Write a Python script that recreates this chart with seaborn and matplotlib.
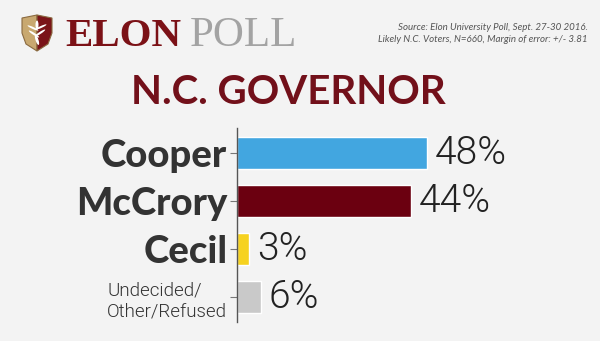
import matplotlib
matplotlib.use("Agg")
import matplotlib.pyplot as plt
import seaborn as sns
import pandas as pd
from matplotlib.patches import Polygon, Ellipse

categories = ["Cooper", "McCrory", "Cecil", "Undecided/\nOther/Refused"]
values = [48, 44, 3, 6]
value_labels = ["48%", "44%", "3%", "6%"]
colors = ["#42a6e0", "#6b0010", "#f6d21f", "#c9c9c9"]

sns.set_theme(style="white")
plt.rcParams['font.family'] = ['Lato', 'DejaVu Sans']

BG = "#f3f3f3"
fig = plt.figure(figsize=(6.0, 3.41), dpi=100)
fig.patch.set_facecolor(BG)

ax = fig.add_axes([237/600, 1-322/341, (600-237)/600, (322-128)/341])
ax.set_facecolor(BG)

df = pd.DataFrame({"cat": categories, "val": values})
sns.barplot(data=df, x="val", y="cat", hue="cat", palette=colors, orient="h",
            width=0.65, legend=False, ax=ax, saturation=1)

ax.set_xlim(0, (600-237)/3.96)
ax.set_ylim(3.52, -0.52)
ax.set_xlabel("")
ax.set_ylabel("")
ax.set_xticks([])
for s in ["top", "right", "bottom"]:
    ax.spines[s].set_visible(False)
ax.spines["left"].set_color("#555555")
ax.spines["left"].set_linewidth(1.0)
ax.tick_params(axis="y", length=5, width=0.8, color="#777777", left=True, pad=2)

ax.set_yticks(range(len(categories)))
ax.set_yticklabels(categories)
for i, lab in enumerate(ax.get_yticklabels()):
    if i < 3:
        lab.set_fontsize(27.5)
        lab.set_fontweight("black")
        lab.set_color("#333333")
    else:
        lab.set_fontsize(13.5)
        lab.set_fontweight(300)
        lab.set_family(["Roboto", "DejaVu Sans"])
        lab.set_color("#333333")
        lab.set_linespacing(1.25)
        lab.set_multialignment("left")

for i, (v, t) in enumerate(zip(values, value_labels)):
    ax.text(v + 2.0, i, t, va="center", ha="left", fontsize=28,
            fontweight=300, color="#222222", family=["Roboto", "DejaVu Sans"])

# Title
fig.text(288/600, 1-93/341, "N.C. GOVERNOR", ha="center", va="center",
         fontsize=29, fontweight="bold", color="#72101a")

# Logo
def fig_poly(pts, color):
    pts_f = [(x/600, 1-y/341) for x, y in pts]
    p = Polygon(pts_f, closed=True, transform=fig.transFigure,
                facecolor=color, edgecolor="#8a6a40", linewidth=0.8)
    fig.patches.append(p)
fig_poly([(22, 18), (37, 15), (37, 51), (26, 44), (22, 33)], "#c8a870")
fig_poly([(37, 15), (52, 18), (52, 33), (48, 44), (37, 51)], "#7a1419")
for (cx, cy, w, h, a) in [(37, 40, 3, 10, 10), (34, 34, 3, 9, 40), (40, 33, 3, 9, -40),
                          (33, 28, 3, 8, 50), (41, 27, 3, 8, -50), (37, 25, 3, 9, 0)]:
    e = Ellipse((cx/600, 1-cy/341), w/600, h/341, angle=a, transform=fig.transFigure,
                facecolor="white", edgecolor="none")
    fig.patches.append(e)

fig.text(65/600, 1-36/341, "ELON", ha="left", va="center", fontsize=29.5,
         fontweight="bold", color="#7b1116", family=["Liberation Serif"])
fig.text(190/600, 1-36/341, "POLL", ha="left", va="center", fontsize=31,
         color="#a3a3a3", family=["Liberation Serif"])

fig.text(588/600, 1-28/341, "Source: Elon University Poll, Sept. 27-30 2016.",
         ha="right", va="center", fontsize=7, style="italic", color="#555555")
fig.text(588/600, 1-40/341, "Likely N.C. Voters, N=660, Margin of error: +/- 3.81",
         ha="right", va="center", fontsize=7, style="italic", color="#555555")

fig.savefig("out.png", dpi=100, facecolor=BG)
